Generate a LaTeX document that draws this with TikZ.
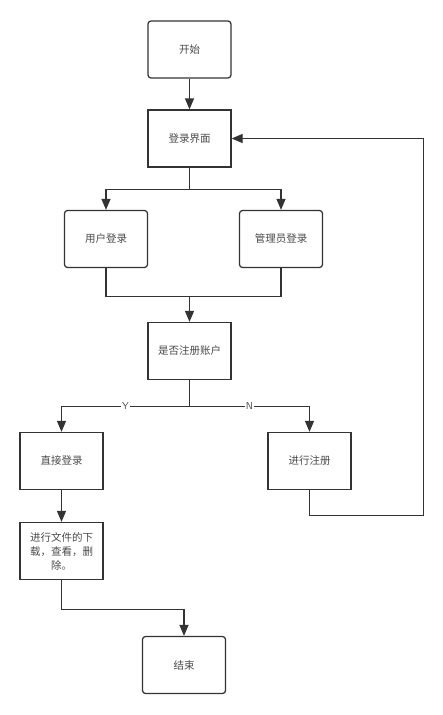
\documentclass[tikz,border=0pt]{standalone}
\usepackage{fontspec}
\newfontfamily\cjk{Noto Sans CJK SC}
\usepackage{tikz}
\usetikzlibrary{arrows.meta}
\definecolor{linegray}{HTML}{333333}
\definecolor{textgray}{HTML}{4A4A4A}

\tikzset{
  box/.style={draw=linegray, line width=1.25pt, fill=white, minimum width=83pt, minimum height=57pt, inner sep=2pt, font=\cjk\fontsize{10.5}{14}\selectfont, text=textgray},
  roundbox/.style={box, rounded corners=3pt},
  conn/.style={draw=linegray, line width=1.25pt},
  arr/.style={conn, -{Triangle[length=11pt,width=9pt]}},
  lbl/.style={fill=white, inner sep=1pt, font=\sffamily\fontsize{10}{12}\selectfont, text=textgray}
}

\begin{document}
\begin{tikzpicture}[x=1pt,y=-1pt]
\useasboundingbox (0,0) rectangle (443,715);

\node[roundbox] (start) at (189.5,49.5) {开始};
\node[box] (login) at (189.5,138.5) {登录界面};
\node[roundbox] (user) at (106,239) {用户登录};
\node[roundbox] (admin) at (281,239) {管理员登录};
\node[box] (check) at (189.5,351) {是否注册账户};
\node[box] (direct) at (61.5,461) {直接登录};
\node[box] (reg) at (309.5,461) {进行注册};
\node[box, align=center] (ops) at (61.5,551) {进行文件的下\\载，查看，删\\除。};
\node[roundbox] (finish) at (184,665) {结束};

% bend points
\coordinate (split) at (189.5,189.5);
\coordinate (merge) at (189.5,296.5);
\coordinate (choice) at (189.5,406.5);
\coordinate (loop) at (423.5,138.5);

\draw[arr] (start) -- (login);
\draw[conn] (login.south) -- (split);
\draw[arr] (split) -| (user.north);
\draw[arr] (split) -| (admin.north);
\draw[conn] (user.south) |- (merge) -| (admin.south);
\draw[arr] (merge) -- (check.north);
\draw[conn] (check.south) -- (choice);
\draw[arr] (choice) -| node[pos=0.25,lbl] {Y} (direct.north);
\draw[arr] (choice) -| node[pos=0.25,lbl] {N} (reg.north);
\draw[arr] (reg.south) -- ++(0,25) -| (loop) -- (login.east);
\draw[arr] (direct) -- (ops);
\draw[arr] (ops.south) -- ++(0,29) -| (finish.north);
\end{tikzpicture}
\end{document}
